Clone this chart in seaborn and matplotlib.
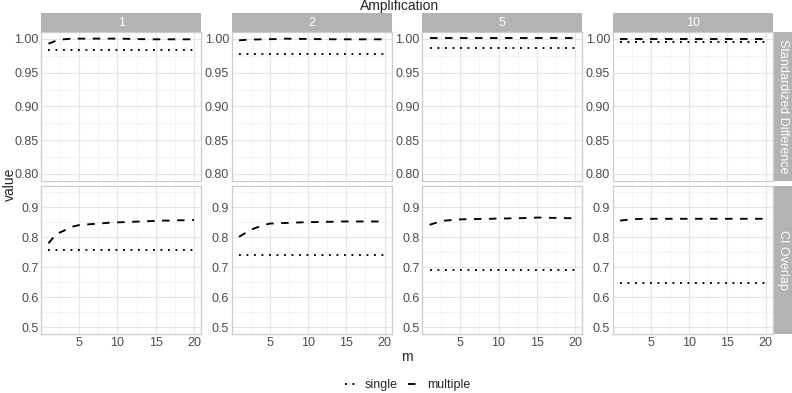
import pandas as pd
import matplotlib
matplotlib.use('Agg')
import matplotlib.pyplot as plt
from matplotlib.lines import Line2D
from matplotlib.patches import Rectangle
from matplotlib.ticker import MultipleLocator
import seaborn as sns

sns.set_theme(style="whitegrid")
plt.rcParams['font.family'] = ['Liberation Sans', 'DejaVu Sans']

# --- data ---
m = list(range(1, 21))
amplifications = ["1", "2", "5", "10"]
metrics = ["Standardized Difference", "CI Overlap"]

single_sd = {"1": 0.9838, "2": 0.977, "5": 0.987, "10": 0.995}
single_ci = {"1": 0.759, "2": 0.740, "5": 0.692, "10": 0.647}

multiple_sd = {
    "1": [0.993, 0.9975, 0.9995, 1.0005, 1.0005, 1.0005, 1.0005, 1.0005, 1.0005, 1.0005,
          1.0003, 1.0, 0.9998, 0.9996, 0.9995, 0.9995, 0.9995, 0.9995, 0.9995, 0.9995],
    "2": [0.998, 0.9988, 0.9992, 0.9995, 0.9997, 0.9999, 1.0005, 1.0003, 1.0001, 1.0,
          0.9998, 0.9997, 0.9996, 0.9995, 0.9995, 0.9995, 0.9995, 0.9995, 0.9995, 0.9995],
    "5": [1.001] * 20,
    "10": [1.000] * 20,
}
multiple_ci = {
    "1": [0.780, 0.811, 0.822, 0.835, 0.841, 0.843, 0.845, 0.847, 0.849, 0.850,
          0.851, 0.852, 0.853, 0.854, 0.855, 0.856, 0.856, 0.857, 0.857, 0.858],
    "2": [0.802, 0.817, 0.830, 0.839, 0.846, 0.847, 0.848, 0.849, 0.850, 0.851,
          0.851, 0.852, 0.852, 0.853, 0.853, 0.853, 0.853, 0.853, 0.853, 0.853],
    "5": [0.842, 0.850, 0.856, 0.858, 0.860, 0.861, 0.861, 0.862, 0.862, 0.863,
          0.863, 0.864, 0.864, 0.865, 0.866, 0.866, 0.865, 0.865, 0.864, 0.864],
    "10": [0.856, 0.859, 0.861, 0.862, 0.862, 0.862, 0.862, 0.862, 0.862, 0.862,
           0.862, 0.862, 0.862, 0.862, 0.862, 0.862, 0.862, 0.862, 0.862, 0.862],
}

rows = []
for a in amplifications:
    for i, mi in enumerate(m):
        rows.append((a, "Standardized Difference", mi, "single", single_sd[a]))
        rows.append((a, "Standardized Difference", mi, "multiple", multiple_sd[a][i]))
        rows.append((a, "CI Overlap", mi, "single", single_ci[a]))
        rows.append((a, "CI Overlap", mi, "multiple", multiple_ci[a][i]))
df = pd.DataFrame(rows, columns=["amp", "metric", "m", "type", "value"])

# ggplot-like dotted ("13") and dashed ("44") patterns
dashes = {"single": (1, 3), "multiple": (4, 4)}
LW = 1.35
ylims = {"Standardized Difference": (0.79, 1.01), "CI Overlap": (0.4775, 0.9725)}
yticks = {"Standardized Difference": [0.80, 0.85, 0.90, 0.95, 1.00],
          "CI Overlap": [0.5, 0.6, 0.7, 0.8, 0.9]}
yfmt = {"Standardized Difference": "{:.2f}", "CI Overlap": "{:.1f}"}

grid_c = "#E5E5E5"
border_c = "#CCCCCC"
strip_c = "#B3B3B3"
tick_c = "#4D4D4D"

fig, axes = plt.subplots(2, 4, figsize=(7.92, 3.93), dpi=100)
fig.subplots_adjust(left=0.052, right=0.976, top=0.918, bottom=0.150,
                    wspace=0.19, hspace=0.034)

for r, metric in enumerate(metrics):
    for c, a in enumerate(amplifications):
        ax = axes[r, c]
        sub = df[(df.amp == a) & (df.metric == metric)]
        sns.lineplot(data=sub, x="m", y="value", style="type", dashes=dashes,
                     color="black", linewidth=LW, ax=ax, legend=False,
                     style_order=["single", "multiple"])
        ax.set_xlim(0.05, 20.95)
        ax.set_ylim(*ylims[metric])
        ax.set_yticks(yticks[metric])
        ax.set_yticklabels([yfmt[metric].format(v) for v in yticks[metric]])
        ax.xaxis.set_major_locator(MultipleLocator(5))
        ax.xaxis.set_minor_locator(MultipleLocator(2.5))
        step = 0.05 if r == 0 else 0.1
        ax.yaxis.set_minor_locator(MultipleLocator(step / 2))
        ax.set_xticks([5, 10, 15, 20])
        ax.grid(True, which="major", color=grid_c, linewidth=0.8)
        ax.grid(True, which="minor", color="#F0F0F0", linewidth=0.5)
        ax.set_facecolor("white")
        for s in ax.spines.values():
            s.set_color(border_c)
            s.set_linewidth(0.9)
        ax.tick_params(axis="both", which="both", length=0, colors=tick_c,
                       labelsize=9, pad=2)
        ax.set_xlabel("")
        ax.set_ylabel("")
        if r == 0:
            ax.tick_params(axis="x", labelbottom=False)
            ax.add_patch(Rectangle((0, 1.0), 1, 0.128, transform=ax.transAxes,
                                   facecolor=strip_c, edgecolor="none", clip_on=False))
            ax.text(0.5, 1.064, a, transform=ax.transAxes, ha="center", va="center",
                    color="white", fontsize=9)
        if c == 3:
            ax.add_patch(Rectangle((1.0, 0), 0.119, 1, transform=ax.transAxes,
                                   facecolor=strip_c, edgecolor="none", clip_on=False))
            ax.text(1.06, 0.5, metric, transform=ax.transAxes, ha="center",
                    va="center", rotation=-90, color="white", fontsize=9)

fig.text(0.505, 0.985, "Amplification", ha="center", va="center", fontsize=10)
fig.text(0.012, 0.53, "value", ha="center", va="center", rotation=90, fontsize=10)
fig.text(0.514, 0.092, "m", ha="center", va="center", fontsize=10)

handles = [Line2D([], [], color="black", linewidth=LW, dashes=dashes["single"]),
           Line2D([], [], color="black", linewidth=LW, dashes=dashes["multiple"])]
fig.legend(handles, ["single", "multiple"], loc="center", bbox_to_anchor=(0.515, 0.02),
           ncol=2, frameon=False, fontsize=9, handlelength=0.75, handletextpad=0.8,
           columnspacing=0.8)

fig.savefig("out.png", dpi=100)
